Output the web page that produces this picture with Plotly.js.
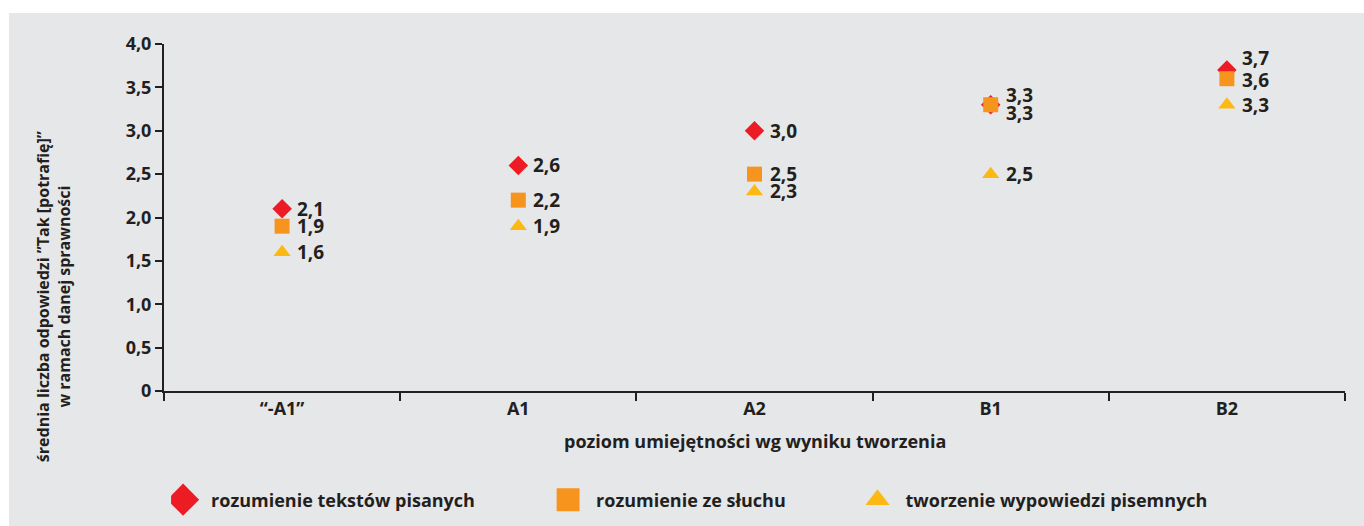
<!DOCTYPE html>
<html><head><meta charset="utf-8">
<script src="https://cdn.plot.ly/plotly-3.0.1.min.js"></script>
<style>html,body{margin:0;padding:0;background:#fff;width:1364px;height:526px;overflow:hidden}
#chart{position:absolute;left:9px;top:13px;width:1355px;height:513px}</style>
</head><body><div id="chart"></div>
<script>
// ---- data ----
const categories = ['“-A1”', 'A1', 'A2', 'B1', 'B2'];
const seriesNames = ['rozumienie tekstów pisanych', 'rozumienie ze słuchu', 'tworzenie wypowiedzi pisemnych'];
const readingValues = [2.1, 2.6, 3.0, 3.3, 3.7];
const listeningValues = [1.9, 2.2, 2.5, 3.3, 3.6];
const writingValues = [1.6, 1.9, 2.3, 2.5, 3.3];
const yTickValues = [0, 0.5, 1, 1.5, 2, 2.5, 3, 3.5, 4];
const yTickLabels = ['0', '0,5', '1,0', '1,5', '2,0', '2,5', '3,0', '3,5', '4,0'];
const xTitle = 'poziom umiejętności wg wyniku tworzenia';
const yTitle = 'średnia liczba odpowiedzi ”Tak [potrafię]”<br>w ramach danej sprawności';

// ---- style ----
const INK = '#231f20';
const FONT = 'Open Sans, sans-serif';
const seriesValues = [readingValues, listeningValues, writingValues];
const colors = ['#ed1c24', '#f7941d', '#fdb913'];
const symbols = ['diamond', 'square', 'triangle-up'];
const sizes = [15, 15, 15];
const legendIds = ['legend', 'legend2', 'legend3'];
const legendX = [0.006, 0.332, 0.594];
const legendScale = [1.65, 1.53, 1.4];
const labelYShift = [[0, 0, 0, 10, 12], [0, 0, 0, -8, -1], [0, 0, 0, 0, 0]];

const fmt = v => v.toFixed(1).replace('.', ',');

const traces = seriesValues.map((vals, i) => ({
  type: 'scatter', mode: 'markers', name: seriesNames[i],
  x: categories, y: vals, legend: legendIds[i],
  marker: {symbol: symbols[i], size: sizes[i], color: colors[i], line: {width: 0}},
  hoverinfo: 'skip'
}));

const annotations = [];
seriesValues.forEach((vals, i) => {
  vals.forEach((v, j) => {
    annotations.push({x: categories[j], y: v, xref: 'x', yref: 'y', text: fmt(v),
      showarrow: false, xanchor: 'left', yanchor: 'middle', xshift: 13, yshift: labelYShift[i][j],
      font: {family: FONT, size: 19, color: INK, weight: 700}});
  });
});
annotations.push({xref: 'paper', yref: 'paper', x: -0.093, y: 0.271, text: yTitle, textangle: -90,
  showarrow: false, xanchor: 'center', yanchor: 'middle', align: 'center',
  font: {family: FONT, size: 16, color: INK, weight: 700}});
annotations.push({xref: 'paper', yref: 'paper', x: 0.5, y: -0.144, text: xTitle,
  showarrow: false, xanchor: 'center', yanchor: 'middle',
  font: {family: FONT, size: 18, color: INK, weight: 700}});

const layout = {
  width: 1355, height: 513,
  margin: {l: 155, r: 19, t: 31, b: 135, autoexpand: false},
  paper_bgcolor: '#e6e7e8', plot_bgcolor: '#e6e7e8',
  font: {family: FONT, color: INK, size: 18, weight: 700},
  xaxis: {type: 'category', categoryarray: categories, range: [-0.5, 4.5],
    tickson: 'boundaries', ticks: 'outside', ticklen: 8, tickwidth: 2, tickcolor: INK,
    showline: true, linecolor: INK, linewidth: 2, showgrid: false, zeroline: false,
    tickfont: {family: FONT, size: 18, color: INK, weight: 700}, fixedrange: true},
  yaxis: {range: [0, 4], tickvals: yTickValues, ticktext: yTickLabels,
    ticks: 'outside', ticklen: 7, tickwidth: 2, tickcolor: INK,
    showline: true, linecolor: INK, linewidth: 2, showgrid: false, zeroline: false,
    tickfont: {family: FONT, size: 18, color: INK, weight: 700}, fixedrange: true},
  annotations: annotations,
  showlegend: true
};
legendIds.forEach((id, i) => {
  layout[id] = {orientation: 'h', x: legendX[i], y: -0.314, xanchor: 'left', yanchor: 'middle',
    bgcolor: 'rgba(0,0,0,0)', borderwidth: 0,
    font: {family: FONT, size: 18, color: INK, weight: 700}};
});

function scaleLegend() {
  const paths = document.querySelectorAll('#chart .legendpoints path.scatterpts');
  paths.forEach(p => {
    const fill = (p.style.fill || '').replace(/\s/g, '');
    colors.forEach((c, i) => {
      const r = parseInt(c.slice(1, 3), 16), g = parseInt(c.slice(3, 5), 16), b = parseInt(c.slice(5, 7), 16);
      if (fill === `rgb(${r},${g},${b})`) p.setAttribute('transform', `translate(12,0) scale(${legendScale[i]})`);
    });
  });
}

Plotly.newPlot('chart', traces, layout, {staticPlot: true, displayModeBar: false}).then(gd => {
  scaleLegend();
  gd.on('plotly_afterplot', scaleLegend);
});
</script></body></html>
